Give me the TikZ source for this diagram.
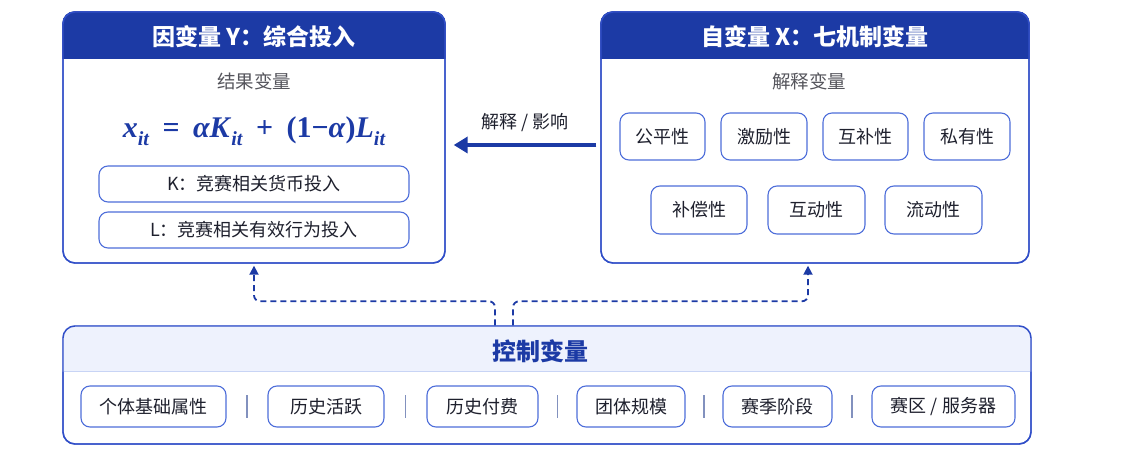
\documentclass[tikz,border=0pt]{standalone}
\usepackage{fontspec}
\usetikzlibrary{arrows.meta,calc}
\newfontfamily\cjk{Noto Sans CJK SC}
\newfontfamily\fml{Liberation Serif}
\newcommand\mysub{\raisebox{-0.26em}{\fontsize{20}{21}\selectfont\itshape it}}
\newcommand\opsp[1]{\hspace{0.45em}#1\hspace{0.45em}}
\definecolor{hdr}{RGB}{28,58,165}
\definecolor{bord}{RGB}{48,78,200}
\definecolor{itemc}{RGB}{78,110,218}
\definecolor{band}{RGB}{238,242,253}
\definecolor{bandline}{RGB}{200,212,245}
\definecolor{txt}{RGB}{30,32,45}
\definecolor{subtxt}{RGB}{85,85,92}
\definecolor{sepc}{RGB}{130,145,190}
\tikzset{
  outer/.style={draw=bord,line width=1.4pt,rounded corners=12pt,inner sep=0pt},
  itembox/.style={draw=itemc,line width=1.1pt,rounded corners=9pt,fill=white,inner sep=0pt,
     font=\cjk\fontsize{18}{20}\selectfont,text=txt},
  titletxt/.style={font=\cjk\bfseries\fontsize{23}{26}\selectfont,text=white},
  subt/.style={font=\cjk\fontsize{18.5}{20}\selectfont,text=subtxt},
  dashconn/.style={draw=hdr,line width=1.8pt,dash pattern=on 6pt off 4pt,rounded corners=6pt,
     -{Triangle[length=9pt,width=9pt]},shorten >=2pt},
  bigarrow/.style={draw=hdr,line width=3.5pt,-{Triangle[length=14pt,width=16pt]}},
}
\begin{document}
\begin{tikzpicture}[x=1pt,y=-1pt]
\useasboundingbox (0,0) rectangle (1140,454);
\fill[white] (0,0) rectangle (1140,454);
% left box
\node[outer,minimum width=382pt,minimum height=251pt,fill=white] (L) at (254,137.5) {};
\begin{scope}
  \clip[rounded corners=12pt] (L.north west) rectangle (L.south east);
  \fill[hdr] (L.north west) rectangle ($(L.north east)+(0,48)$);
\end{scope}
\node[outer,minimum width=382pt,minimum height=251pt] at (L) {};
\node[titletxt] (Lt) at (254,37) {因变量 Y：综合投入};
\node[subt] (Ls) at (254,81) {结果变量};
\node[text=hdr,font=\fml\bfseries\fontsize{30}{32}\selectfont] (F) at (254,131)
  {\textit{x}\mysub\opsp{=}\textit{αK}\mysub\opsp{+}(1−\textit{α})\textit{L}\mysub};
\node[itembox,minimum width=310pt,minimum height=36pt] (K) at (254,184) {K：竞赛相关货币投入};
\node[itembox,minimum width=310pt,minimum height=36pt] (Lb) at (254,230) {L：竞赛相关有效行为投入};
% right box
\node[outer,minimum width=428pt,minimum height=251pt,fill=white] (R) at (815,137.5) {};
\begin{scope}
  \clip[rounded corners=12pt] (R.north west) rectangle (R.south east);
  \fill[hdr] (R.north west) rectangle ($(R.north east)+(0,48)$);
\end{scope}
\node[outer,minimum width=428pt,minimum height=251pt] at (R) {};
\node[titletxt] (Rt) at (815,37) {自变量 X：七机制变量};
\node[subt] (Rs) at (809,81) {解释变量};
\node[itembox,minimum width=85pt,minimum height=47pt] (m1) at (662.5,136.5) {公平性};
\node[itembox,minimum width=86pt,minimum height=47pt] (m2) at (764,136.5) {激励性};
\node[itembox,minimum width=85pt,minimum height=47pt] (m3) at (865.5,136.5) {互补性};
\node[itembox,minimum width=86pt,minimum height=47pt] (m4) at (967,136.5) {私有性};
\node[itembox,minimum width=96pt,minimum height=48pt] (m5) at (699,210) {补偿性};
\node[itembox,minimum width=97pt,minimum height=48pt] (m6) at (816.5,210) {互动性};
\node[itembox,minimum width=97pt,minimum height=48pt] (m7) at (933.5,210) {流动性};
% main arrow
\draw[bigarrow] ([shift={(-4,7.5)}]R.west) -- ([shift={(8,7.5)}]L.east);
\node[font=\cjk\fontsize{18}{20}\selectfont,text=txt] (al) at (525,123) {解释 / 影响};
% bottom box
\node[outer,minimum width=968pt,minimum height=118pt,fill=white] (B) at (547,385) {};
\begin{scope}
  \clip[rounded corners=12pt] (B.north west) rectangle (B.south east);
  \fill[band] (B.north west) rectangle ($(B.north east)+(0,46)$);
  \draw[bandline,line width=0.8pt] ($(B.north west)+(0,46)$) -- ($(B.north east)+(0,46)$);
\end{scope}
\node[outer,minimum width=968pt,minimum height=118pt] at (B) {};
\node[font=\cjk\bfseries\fontsize{24}{26}\selectfont,text=hdr] (Bt) at (540,351) {控制变量};
\node[itembox,minimum width=145pt,minimum height=41pt] (c1) at (153.5,406.5) {个体基础属性};
\node[itembox,minimum width=116pt,minimum height=41pt] (c2) at (326,406.5) {历史活跃};
\node[itembox,minimum width=111pt,minimum height=41pt] (c3) at (482.5,406.5) {历史付费};
\node[itembox,minimum width=108pt,minimum height=41pt] (c4) at (631,406.5) {团体规模};
\node[itembox,minimum width=109pt,minimum height=41pt] (c5) at (777.5,406.5) {赛季阶段};
\node[itembox,minimum width=143pt,minimum height=41pt] (c6) at (943.5,406.5) {赛区 / 服务器};
\foreach \a/\b in {c1/c2,c2/c3,c3/c4,c4/c5,c5/c6}{
  \draw[sepc,line width=1.4pt] ($($(\a.east)!0.5!(\b.west)$)+(0,-11.5)$) -- ($($(\a.east)!0.5!(\b.west)$)+(0,11.5)$);
}
% dashed connectors
\draw[dashconn] ([xshift=-52pt]B.north) -- ++(0,-24) -| (L.south);
\draw[dashconn] ([xshift=-34pt]B.north) -- ++(0,-24) -| ([xshift=-7pt]R.south);
\end{tikzpicture}
\end{document}
